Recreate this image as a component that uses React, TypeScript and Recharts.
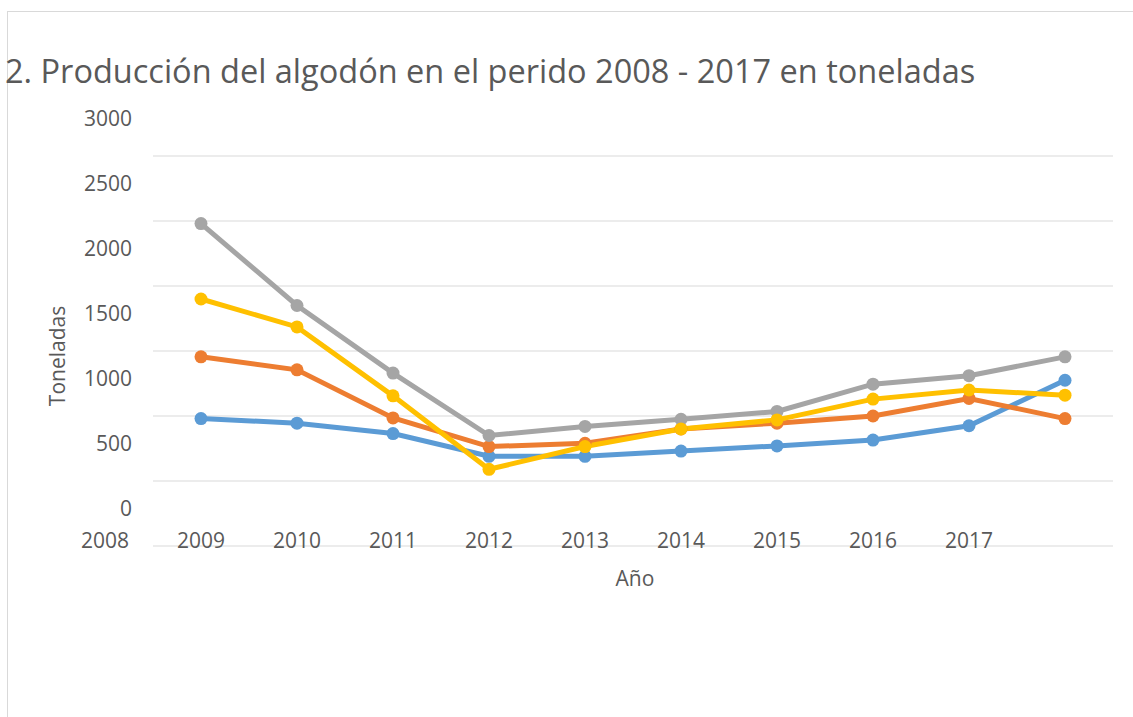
import React from 'react';
import { LineChart, Line, XAxis, YAxis, CartesianGrid } from 'recharts';

const years = ['2008', '2009', '2010', '2011', '2012', '2013', '2014', '2015', '2016', '2017'];
const serie1 = [980, 945, 865, 690, 690, 730, 770, 815, 925, 1275];
const serie2 = [1455, 1355, 985, 765, 790, 900, 945, 1000, 1135, 980];
const serie3 = [2480, 1850, 1330, 850, 920, 975, 1035, 1245, 1310, 1455];
const serie4 = [1900, 1685, 1155, 590, 765, 900, 970, 1130, 1200, 1160];
const yTicks = [0, 500, 1000, 1500, 2000, 2500, 3000];

const data = years.map((y, i) => ({ year: y, s1: serie1[i], s2: serie2[i], s3: serie3[i], s4: serie4[i] }));

const W = 1133;
const H = 717;
const margin = { top: 156, right: 20, bottom: 141, left: 53 };
const yAxisWidth = 100;
const padX = 48;
const plotWidth = W - margin.left - margin.right - yAxisWidth;
const step = (plotWidth - 2 * padX) / (years.length - 1);

const FONT = '"Open Sans", sans-serif';
const TEXT = '#595959';
const FS = 21;

const YTick = (props: any) => {
  const { x, y, payload } = props;
  return (
    <text x={x} y={y - 38} textAnchor="end" dominantBaseline="central" fontFamily={FONT} fontSize={FS} fill={TEXT}>
      {payload.value}
    </text>
  );
};

const XTick = (props: any) => {
  const { x, y, payload } = props;
  return (
    <text x={x - step} y={y - 14} textAnchor="middle" dominantBaseline="central" fontFamily={FONT} fontSize={FS} fill={TEXT}>
      {payload.value}
    </text>
  );
};

const YLabel = (props: any) => {
  const { viewBox } = props;
  const cx = viewBox.x + 4;
  const cy = viewBox.y + viewBox.height / 2 + 5;
  return (
    <text x={cx} y={cy} transform={`rotate(-90 ${cx} ${cy})`} textAnchor="middle" dominantBaseline="central" fontFamily={FONT} fontSize={FS} fill={TEXT}>
      Toneladas
    </text>
  );
};

const XLabel = (props: any) => {
  const { viewBox } = props;
  const cx = viewBox.x + viewBox.width / 2 + 2;
  const cy = viewBox.y + 32;
  return (
    <text x={cx} y={cy} textAnchor="middle" dominantBaseline="central" fontFamily={FONT} fontSize={FS} fill={TEXT}>
      Año
    </text>
  );
};

const series = [
  { key: 's1', color: '#5B9BD5' },
  { key: 's2', color: '#ED7D31' },
  { key: 's3', color: '#A5A5A5' },
  { key: 's4', color: '#FFC000' },
];

export default function App() {
  return (
    <div style={{ position: 'absolute', left: 0, top: 0, width: W, height: H, background: '#fff', overflow: 'hidden' }}>
      <div style={{ position: 'absolute', left: 7, top: 11, width: W, height: H, borderLeft: '1px solid #D9D9D9', borderTop: '1px solid #D9D9D9' }} />
      <div style={{ position: 'absolute', left: 0, top: 0 }}>
        <LineChart width={W} height={H} data={data} margin={margin}>
          <CartesianGrid vertical={false} stroke="#D9D9D9" strokeWidth={1} />
          <XAxis
            dataKey="year"
            axisLine={false}
            tickLine={false}
            padding={{ left: padX, right: padX }}
            height={30}
            interval={0}
            tick={<XTick />}
            label={<XLabel />}
          />
          <YAxis
            width={yAxisWidth}
            domain={[0, 3000]}
            ticks={yTicks}
            axisLine={false}
            tickLine={false}
            tickSize={0}
            tickMargin={21}
            tick={<YTick />}
            label={<YLabel />}
          />
          {series.map((s) => (
            <Line
              key={s.key}
              dataKey={s.key}
              stroke={s.color}
              strokeWidth={5}
              dot={{ r: 6.5, fill: s.color, stroke: s.color, strokeWidth: 0 }}
              activeDot={false}
              isAnimationActive={false}
            />
          ))}
        </LineChart>
      </div>
      <div style={{ position: 'absolute', left: 5, top: 56, fontFamily: FONT, fontSize: 32.5, lineHeight: '30px', color: TEXT, whiteSpace: 'nowrap' }}>
        2. Producción del algodón en el perido 2008 - 2017 en toneladas
      </div>
    </div>
  );
}
